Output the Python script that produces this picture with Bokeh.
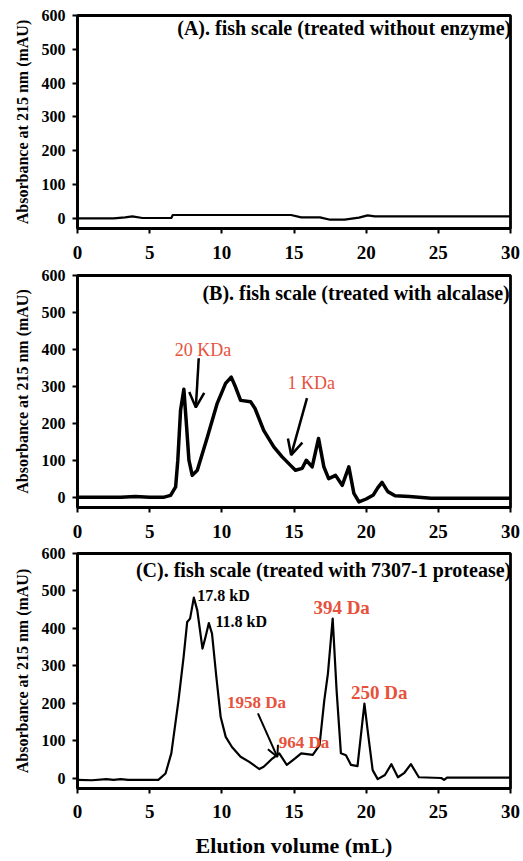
from bokeh.plotting import figure
from bokeh.layouts import column
from bokeh.models import Arrow, OpenHead, ColumnDataSource, Range1d, FixedTicker
from bokeh.core.properties import value
from bokeh.embed import file_html
from bokeh.resources import INLINE

# ---------------- data ----------------
x_ticks = [0, 5, 10, 15, 20, 25, 30]
y_ticks = [0, 100, 200, 300, 400, 500, 600]
y_label = "Absorbance at 215 nm (mAU)"
x_label = "Elution volume (mL)"

titles = ["(A). fish scale (treated without enzyme)",
          "(B). fish scale (treated with alcalase)",
          "(C). fish scale (treated with 7307-1 protease)"]

a_vol = [0, 2.5, 3.3, 3.8, 4.5, 6.5, 6.6, 14.8, 15.5, 16.8, 17.5, 18.5, 19.5, 20.1, 20.6, 30]
a_abs = [0, 0, 3, 6, 1, 1, 10, 10, 3, 3, -4, -4, 2, 9, 6, 6]

b_vol = [0, 3, 4, 5, 6.0, 6.45, 6.8, 6.95, 7.14, 7.37, 7.56, 7.72, 7.95, 8.3, 9.0, 9.68,
         10.26, 10.65, 10.95, 11.3, 12.0, 12.3, 12.9, 13.6, 14.18, 14.76, 15.1, 15.57,
         15.85, 16.26, 16.7, 17.07, 17.4, 17.88, 18.34, 18.8, 19.15, 19.5, 20.0, 20.5,
         20.8, 21.1, 21.5, 22.0, 23.0, 24.5, 30]
b_abs = [0, 0, 2, 0, 0, 5, 28, 100, 235, 292, 190, 100, 59, 73, 163, 254,
         308, 325, 298, 262, 258, 240, 181, 136, 109, 86, 73, 78,
         100, 82, 159, 82, 50, 59, 32, 82, 10, -13, -5, 6,
         25, 40, 15, 4, 2, -3, -3]

c_vol = [0, 1.0, 2.0, 2.5, 3.0, 3.5, 4.5, 5.6, 6.1, 6.5, 7.0, 7.35, 7.6, 7.8, 8.06, 8.3,
         8.66, 8.87, 9.1, 9.32, 9.62, 9.92, 10.27, 10.7, 11.3, 11.9, 12.6, 12.9, 13.5,
         13.98, 14.5, 15.1, 15.5, 16.3, 16.77, 17.1, 17.35, 17.68, 17.95, 18.25, 18.6,
         18.95, 19.4, 19.65, 19.88, 20.1, 20.45, 20.8, 21.3, 21.75, 22.2, 22.65, 23.1,
         23.65, 25.2, 25.4, 25.6, 30]
c_abs = [-5, -6, -3, -5, -3, -5, -5, -5, 12, 66, 208, 323, 417, 426, 482, 448,
         346, 377, 414, 386, 270, 163, 110, 83, 57, 43, 24, 30, 52,
         66, 35, 53, 66, 62, 88, 208, 279, 426, 235, 66, 61,
         35, 32, 119, 199, 128, 21, -3, 8, 37, 2, 14, 37,
         2, 0, -5, 1, 1]

# annotation texts and anchor positions (data units)
b_notes = ["20 KDa", "1 KDa"]
b_note_x = [8.7, 16.2]
b_note_y = [397, 308]
b_arrows = [(8.4, 376, 8.2, 243), (15.9, 268, 14.8, 114)]

c_black = ["17.8 kD", "11.8 kD"]
c_black_x = [8.3, 9.56]
c_black_y = [488, 419]
c_red_big = ["394 Da", "250 Da"]
c_red_big_x = [18.3, 20.9]
c_red_big_y = [456, 229]
c_red_small = ["1958 Da", "964 Da"]
c_red_small_x = [12.4, 15.7]
c_red_small_y = [203, 96]
c_arrows = [(12.5, 173, 13.85, 56)]

# ---------------- styling ----------------
FONT = "Liberation Serif"
RED = "#e6523c"


def make_fig(height, top, bottom, ymin, with_xlabel=False):
    p = figure(width=523, height=height, output_backend="svg", toolbar_location=None,
               x_range=Range1d(0, 30), y_range=Range1d(ymin, 600),
               min_border_left=77, min_border_right=13,
               min_border_top=top, min_border_bottom=bottom)
    p.xgrid.visible = False
    p.ygrid.visible = False
    p.background_fill_color = "white"
    p.border_fill_color = "white"
    p.outline_line_color = "black"
    p.outline_line_width = 2.8
    p.xaxis.ticker = FixedTicker(ticks=x_ticks)
    p.yaxis.ticker = FixedTicker(ticks=y_ticks)
    for ax in (p.xaxis, p.yaxis):
        ax.axis_line_width = 2.8
        ax.axis_line_color = "black"
        ax.major_tick_line_width = 2
        ax.major_tick_in = 0
        ax.major_tick_out = 5
        ax.minor_tick_in = 0
        ax.minor_tick_out = 0
        ax.major_label_text_font = FONT
        ax.major_label_text_font_style = "bold"
        ax.major_label_text_color = "black"
    p.xaxis.major_label_text_font_size = "19px"
    p.xaxis.major_label_standoff = 12
    p.yaxis.major_label_text_font_size = "16px"
    p.yaxis.major_label_standoff = 7
    p.yaxis.axis_label = y_label
    p.yaxis.axis_label_text_font = FONT
    p.yaxis.axis_label_text_font_style = "bold"
    p.yaxis.axis_label_text_font_size = "16px"
    p.yaxis.axis_label_standoff = 8
    p.yaxis.axis_label_text_color = "black"
    if with_xlabel:
        p.xaxis.major_label_standoff = 11
        p.xaxis.axis_label = x_label
        p.xaxis.axis_label_text_font = FONT
        p.xaxis.axis_label_text_font_style = "bold"
        p.xaxis.axis_label_text_font_size = "22px"
        p.xaxis.axis_label_standoff = 12
        p.xaxis.axis_label_text_color = "black"
    return p


def add_text(p, texts, xs, ys, size, color, bold, align, baseline="middle"):
    src = ColumnDataSource(dict(x=xs, y=ys, t=texts))
    p.text(x="x", y="y", text="t", source=src, text_font=value(FONT),
           text_font_size=size, text_color=color,
           text_font_style="bold" if bold else "normal",
           text_align=align, text_baseline=baseline)


def add_arrows(p, arrows, size, width):
    for (xs, ys, xe, ye) in arrows:
        p.add_layout(Arrow(end=OpenHead(size=size, line_width=width, line_color="black"),
                           x_start=xs, y_start=ys, x_end=xe, y_end=ye,
                           line_width=width, line_color="black"))


# Panel A  (frame 15..228)
pa = make_fig(268, 15, 40, -30)
pa.line(a_vol, a_abs, line_width=2.2, color="black", line_join="round")
add_text(pa, [titles[0]], [30.05], [562], "20px", "black", True, "right")

# Panel B  (frame 275..507)
pb = make_fig(277, 7, 38, -28)
pb.line(b_vol, b_abs, line_width=3.5, color="black", line_join="round")
add_text(pb, [titles[1]], [29.95], [553], "20px", "black", True, "right")
add_text(pb, b_notes, b_note_x, b_note_y, "18px", RED, False, "center")
add_arrows(pb, b_arrows, 15, 2.5)

# Panel C  (frame 553..788)
pc = make_fig(316, 8, 73, -28, with_xlabel=True)
pc.line(c_vol, c_abs, line_width=2.2, color="black", line_join="round")
add_text(pc, [titles[2]], [30.05], [557], "20px", "black", True, "right")
add_text(pc, c_black, c_black_x, c_black_y, "16px", "black", True, "left")
add_text(pc, c_red_big, c_red_big_x, c_red_big_y, "19px", RED, True, "center")
add_text(pc, c_red_small, c_red_small_x, c_red_small_y, "17px", RED, True, "center")
add_arrows(pc, c_arrows, 11, 2)

layout = column(pa, pb, pc, spacing=0)
open("out.html", "w").write(file_html(layout, INLINE))
